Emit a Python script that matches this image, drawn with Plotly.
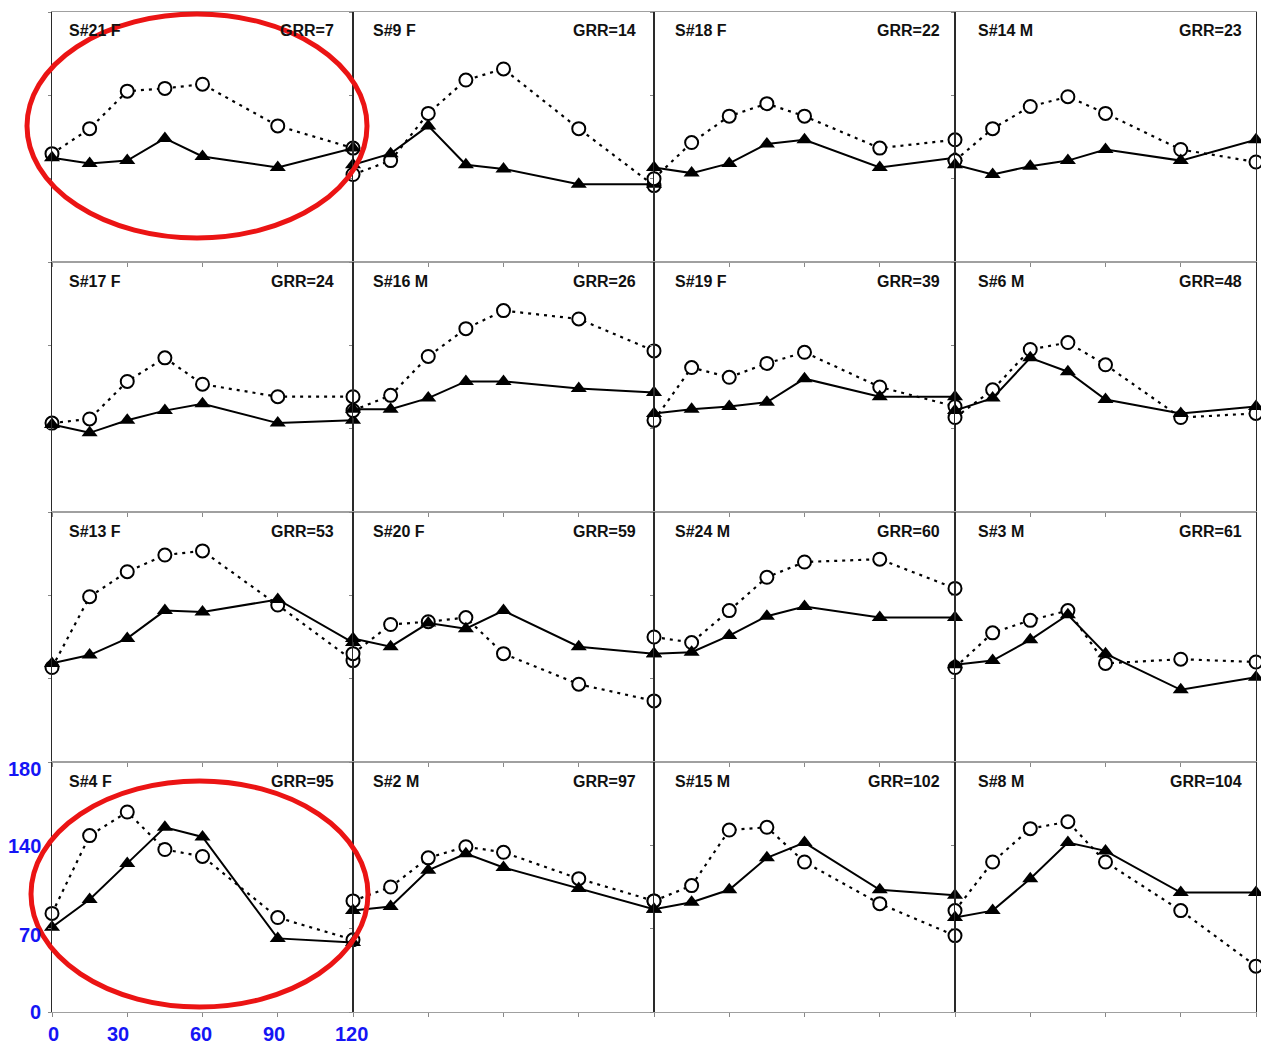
import plotly.graph_objects as go
from plotly.subplots import make_subplots

# ---------------- data ----------------
TIME = [0, 15, 30, 45, 60, 90, 120]

SUBJECTS = ["S#21 F", "S#9 F", "S#18 F", "S#14 M",
            "S#17 F", "S#16 M", "S#19 F", "S#6 M",
            "S#13 F", "S#20 F", "S#24 M", "S#3 M",
            "S#4 F", "S#2 M", "S#15 M", "S#8 M"]

GRR = [7, 14, 22, 23, 24, 26, 39, 48, 53, 59, 60, 61, 95, 97, 102, 104]

# dotted line, open circles
CIRCLE_VALUES = [
    [78, 96, 123, 125, 128, 98, 82],
    [63, 73, 107, 131, 139, 96, 55],
    [60, 86, 105, 114, 105, 82, 88],
    [73, 96, 112, 119, 107, 81, 72],
    [64, 67, 94, 111, 92, 83, 83],
    [73, 84, 112, 132, 145, 139, 116],
    [66, 104, 97, 107, 115, 90, 76],
    [68, 88, 117, 122, 106, 68, 71],
    [68, 119, 137, 149, 152, 113, 73],
    [78, 99, 101, 104, 78, 56, 44],
    [90, 86, 109, 133, 144, 146, 125],
    [68, 93, 102, 109, 71, 74, 72],
    [71, 127, 144, 117, 112, 68, 52],
    [80, 90, 111, 119, 115, 96, 80],
    [80, 91, 131, 133, 108, 78, 55],
    [73, 108, 132, 137, 108, 73, 33],
]

# solid line, filled triangles
TRIANGLE_VALUES = [
    [75, 71, 73, 89, 76, 68, 82],
    [70, 78, 98, 70, 67, 56, 56],
    [68, 64, 71, 85, 88, 68, 75],
    [70, 63, 69, 73, 81, 73, 88],
    [63, 57, 66, 73, 78, 64, 66],
    [74, 74, 82, 94, 94, 89, 86],
    [71, 74, 76, 79, 96, 83, 83],
    [73, 82, 111, 101, 81, 71, 76],
    [71, 77, 89, 109, 108, 117, 86],
    [89, 83, 100, 96, 109, 83, 78],
    [78, 79, 91, 105, 112, 104, 104],
    [70, 73, 88, 106, 78, 52, 61],
    [61, 81, 107, 133, 126, 53, 50],
    [73, 76, 102, 114, 104, 89, 74],
    [74, 79, 88, 111, 122, 88, 84],
    [68, 73, 96, 122, 116, 86, 86],
]

X_TICKS = [0, 30, 60, 90, 120]
Y_TICKS = [0, 60, 120, 180]
X_TICK_LABELS = ["0", "30", "60", "90", "120"]
Y_TICK_LABELS = ["180", "140", "70", "0"]

# ---------------- layout geometry ----------------
W, H = 1261, 1044
ML, MR, MT, MB = 52, 5, 12, 32
PW, PH = W - ML - MR, H - MT - MB


def px_to_paper_x(px):
    return (px - ML) / PW


def px_to_paper_y(py):
    return 1 - (py - MT) / PH


fig = make_subplots(rows=4, cols=4, horizontal_spacing=0, vertical_spacing=0)

for i, subj in enumerate(SUBJECTS):
    r, c = i // 4 + 1, i % 4 + 1
    fig.add_trace(go.Scatter(
        x=TIME, y=CIRCLE_VALUES[i], mode="lines+markers",
        line=dict(color="black", width=2.2, dash="3px,5px"),
        marker=dict(symbol="circle", size=13, color="white",
                    line=dict(color="black", width=2)),
        cliponaxis=False, showlegend=False, hoverinfo="x+y"),
        row=r, col=c)
    fig.add_trace(go.Scatter(
        x=TIME, y=TRIANGLE_VALUES[i], mode="lines+markers",
        line=dict(color="black", width=2),
        marker=dict(symbol="triangle-up", size=14, color="black"),
        cliponaxis=False, showlegend=False, hoverinfo="x+y"),
        row=r, col=c)

fig.update_xaxes(range=[0, 120], tickvals=X_TICKS, showticklabels=False,
                 ticks="outside", ticklen=4, tickcolor="#888",
                 showline=True, mirror=True, linecolor="#a0a0a0", linewidth=1,
                 showgrid=False, zeroline=False)
fig.update_yaxes(range=[0, 180], tickvals=Y_TICKS, showticklabels=False,
                 ticks="outside", ticklen=3, tickcolor="#888",
                 showline=True, mirror=True, linecolor="#2a2a2a", linewidth=1,
                 showgrid=False, zeroline=False)

annotations = []
left_off = [15, 18, 19, 21]
right_off = [17, 16, 13, 12]
panel_w = PW / 4
panel_h = PH / 4
label_font = dict(family="Liberation Sans, Arial, sans-serif", size=16, color="#111")
for i, subj in enumerate(SUBJECTS):
    n = i + 1
    c = i % 4
    xr = "x domain" if n == 1 else f"x{n} domain"
    yr = "y domain" if n == 1 else f"y{n} domain"
    annotations.append(dict(
        text=f"<b>{subj}</b>", xref=xr, yref=yr, x=left_off[c] / panel_w,
        y=1 - 19 / panel_h, xanchor="left", yanchor="middle", showarrow=False,
        font=label_font))
    annotations.append(dict(
        text=f"<b>GRR={GRR[i]}</b>", xref=xr, yref=yr,
        x=1 - right_off[c] / panel_w, y=1 - 19 / panel_h,
        xanchor="right", yanchor="middle", showarrow=False,
        font=label_font))

# blue tick labels on the bottom-left panel
blue_font = dict(family="Liberation Sans, Arial, sans-serif", size=20, color="#1515f5")
x_label_px = [53, 118, 201, 274, 351]
for lab, px in zip(X_TICK_LABELS, x_label_px):
    annotations.append(dict(text=f"<b>{lab}</b>", xref="paper", yref="paper",
                            x=px_to_paper_x(px), y=px_to_paper_y(1034),
                            xanchor="center", yanchor="middle", showarrow=False,
                            font=blue_font))
y_label_py = [769, 846, 935, 1012]
for lab, py in zip(Y_TICK_LABELS, y_label_py):
    annotations.append(dict(text=f"<b>{lab}</b>", xref="paper", yref="paper",
                            x=px_to_paper_x(43), y=px_to_paper_y(py),
                            xanchor="right", yanchor="middle", showarrow=False,
                            font=blue_font))

shapes = [
    dict(type="circle", xref="paper", yref="paper",
         x0=px_to_paper_x(27), x1=px_to_paper_x(367),
         y0=px_to_paper_y(238), y1=px_to_paper_y(14),
         line=dict(color="rgb(235,20,20)", width=5)),
    dict(type="circle", xref="paper", yref="paper",
         x0=px_to_paper_x(31), x1=px_to_paper_x(368),
         y0=px_to_paper_y(1007), y1=px_to_paper_y(781),
         line=dict(color="rgb(235,20,20)", width=5)),
]

fig.update_layout(
    width=W, height=H,
    margin=dict(l=ML, r=MR, t=MT, b=MB),
    paper_bgcolor="white", plot_bgcolor="white",
    annotations=annotations, shapes=shapes,
    font=dict(family="Liberation Sans, Arial, sans-serif"),
)

fig.write_html("out.html")
